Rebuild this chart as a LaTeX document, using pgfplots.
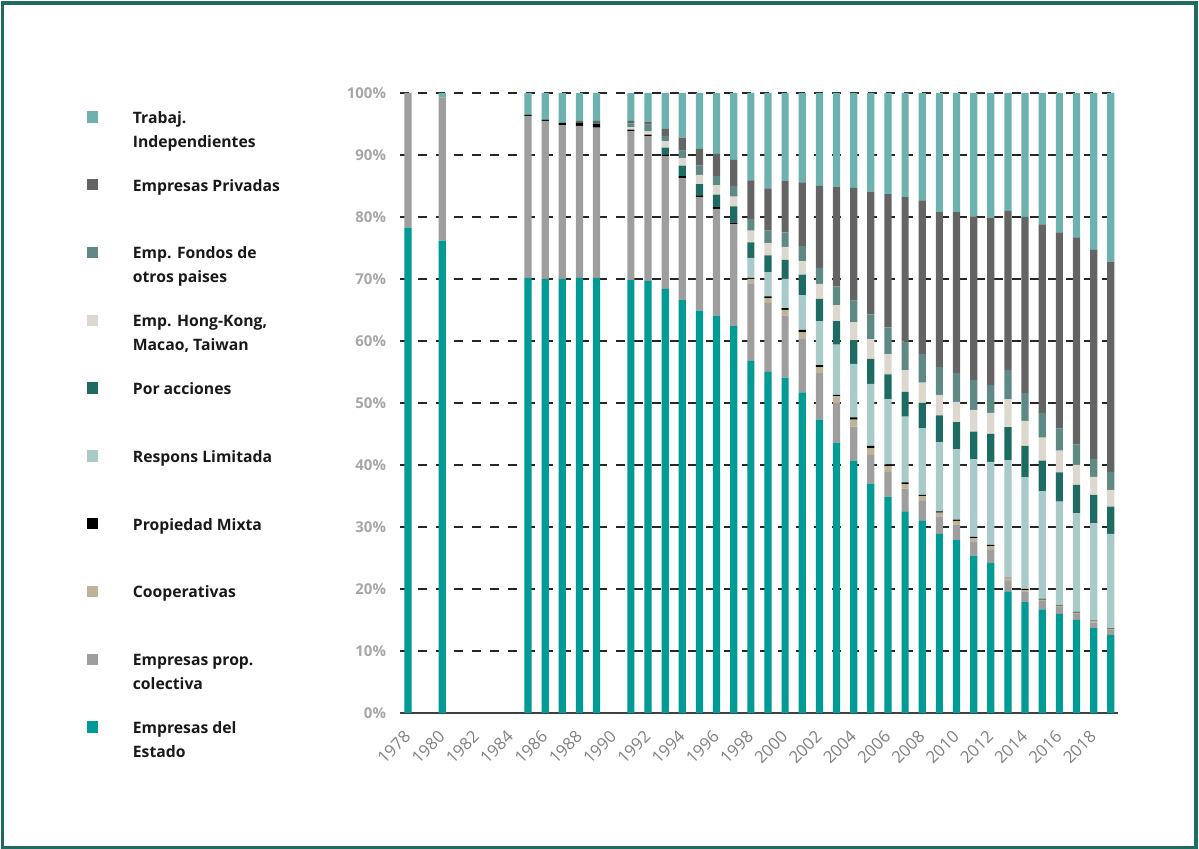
\documentclass[border=0pt]{standalone}
\usepackage{fontspec}
\setmainfont{Open Sans}
\usepackage{pgfplots}
\usepackage{pgfplotstable}
\pgfplotsset{compat=1.18}
\definecolor{cE}{HTML}{009B95}
\definecolor{cC}{HTML}{9E9E9E}
\definecolor{cCo}{HTML}{BEB297}
\definecolor{cM}{HTML}{000000}
\definecolor{cR}{HTML}{A8CBCA}
\definecolor{cA}{HTML}{1E6B63}
\definecolor{cH}{HTML}{DDD8CE}
\definecolor{cF}{HTML}{5E8985}
\definecolor{cP}{HTML}{646464}
\definecolor{cT}{HTML}{6DB2AE}
\definecolor{frameC}{HTML}{1F6B62}
\pgfplotstableread{
year E C Co M R A H F P T
1978 78.3 21.7 0 0 0 0 0 0 0 0
1980 76.2 23.1 0 0 0 0 0 0 0 0.7
1985 70.2 26.1 0 0.2 0 0 0 0 0 3.5
1986 70.0 25.5 0 0.2 0 0 0 0 0 4.3
1987 70.0 24.8 0 0.4 0 0 0 0 0 4.8
1988 70.2 24.5 0 0.5 0 0 0 0 0.3 4.5
1989 70.2 24.2 0 0.6 0 0 0 0.2 0.3 4.5
1991 69.8 24.0 0 0.3 0 0 0.4 0.6 0.4 4.5
1992 69.7 23.3 0 0.3 0 0 0.5 1.1 0.5 4.6
1993 68.4 21.4 0 0.3 0 1.1 1.0 0.9 1.1 5.8
1994 66.6 19.7 0 0.3 0 1.7 1.2 1.2 2.1 7.2
1995 64.9 18.3 0 0.3 0 1.8 1.5 1.5 2.7 9.0
1996 64.1 17.2 0 0.3 0 2.0 1.5 1.5 3.6 9.8
1997 62.4 16.4 0 0.3 0 2.6 1.6 1.7 4.2 10.8
1998 56.8 12.5 0.7 0.2 3.2 2.5 1.9 1.9 6.2 14.1
1999 55.0 11.1 0.8 0.3 3.9 2.7 2.0 2.0 6.8 15.4
2000 54.1 10.0 0.9 0.3 4.7 3.1 2.1 2.3 8.3 14.2
2001 51.7 8.6 1.1 0.4 5.6 3.3 2.2 2.4 10.3 14.4
2002 47.3 7.5 1.0 0.3 7.1 3.6 2.4 2.6 13.2 15.0
2003 43.6 6.4 1.1 0.2 8.1 3.8 2.6 3.0 16.1 15.1
2004 40.7 5.5 1.1 0.4 8.6 3.8 2.9 3.5 18.2 15.3
2005 37.0 4.6 1.1 0.4 10.0 4.0 3.2 4.0 19.8 15.9
2006 34.8 4.1 0.9 0.3 10.5 4.0 3.3 4.3 21.5 16.3
2007 32.5 3.7 0.7 0.3 10.6 4.0 3.5 4.6 23.3 16.8
2008 31.0 3.2 0.8 0.2 10.7 4.1 3.3 4.6 24.8 17.3
2009 28.9 2.8 0.6 0.2 11.2 4.3 3.3 4.5 25.0 19.2
2010 27.9 2.5 0.6 0.2 11.3 4.4 3.3 4.6 26.0 19.2
2011 25.4 2.3 0.5 0.2 12.5 4.5 3.5 4.8 26.4 19.9
2012 24.2 2.1 0.6 0.2 13.4 4.5 3.4 4.5 27.0 20.1
2013 19.6 1.7 0.4 0.1 19.0 5.3 4.5 4.7 25.7 19.0
2014 17.9 1.6 0.3 0.2 18.0 5.1 4.0 4.5 28.4 20.0
2015 16.7 1.4 0.2 0.1 17.4 4.9 3.7 4.0 30.4 21.2
2016 16.0 1.1 0.2 0.1 16.7 4.7 3.5 3.6 31.6 22.5
2017 15.0 1.0 0.2 0.1 15.9 4.6 3.2 3.3 33.4 23.3
2018 13.7 0.9 0.2 0.1 15.7 4.6 2.9 2.9 33.7 25.3
2019 12.6 0.8 0.2 0.1 15.2 4.4 2.7 2.9 33.9 27.2
}\datatable
\begin{document}
\begin{tikzpicture}
\useasboundingbox (-300pt,-102pt) rectangle (599.25pt,534.75pt);
\begin{axis}[
  at={(0pt,0pt)}, anchor=south west,
  scale only axis, width=538.5pt, height=465pt,
  ybar stacked, bar width=5.4pt,
  xmin=1977.53, xmax=2019.42, ymin=0, ymax=100,
  xtick={1978,1980,1982,1984,1986,1988,1990,1992,1994,1996,1998,2000,2002,2004,2006,2008,2010,2012,2014,2016,2018},
  xticklabels={1978,1980,1982,1984,1986,1988,1990,1992,1994,1996,1998,2000,2002,2004,2006,2008,2010,2012,2014,2016,2018},
  ytick={0,10,20,30,40,50,60,70,80,90,100},
  yticklabels={0\%,10\%,20\%,30\%,40\%,50\%,60\%,70\%,80\%,90\%,100\%},
  axis x line*=bottom, axis y line*=left,
  y axis line style={draw=none},
  x axis line style={-, draw=black!75, line width=1pt},
  tick style={draw=none},
  ymajorgrids,
  major grid style={black!85, line width=1pt, dash pattern=on 7pt off 6.5pt},
  xticklabel style={font=\fontsize{12.5}{14}\selectfont, text=black!50, xshift=2pt, rotate=45, anchor=east},
  xticklabel shift=13pt,
  yticklabel style={font=\bfseries\fontsize{11.2}{13}\selectfont, text=black!35, xshift=-7pt},
  legend style={at={(-0.4359,0.9716)}, anchor=north west, draw=none, fill=none,
    inner sep=0pt, outer sep=0pt, row sep=0pt,
    font=\bfseries\fontsize{11.8}{18}\selectfont, text=black!90,
    nodes={inner sep=0pt, text height=9.5pt, text depth=41.35pt},
    cells={anchor=base west},
    /tikz/every odd column/.append style={column sep=25.9pt}},
  reverse legend,
  legend image code/.code={\fill[#1] (0pt,0.5pt) rectangle (8.5pt,9pt);},
]
\addplot[fill=cE, draw=none] table[x=year,y=E]{\datatable};
\addlegendentry{\parbox[t]{140pt}{Empresas del\\Estado}}
\addplot[fill=cC, draw=none] table[x=year,y=C]{\datatable};
\addlegendentry{\parbox[t]{140pt}{Empresas prop.\\colectiva}}
\addplot[fill=cCo, draw=none] table[x=year,y=Co]{\datatable};
\addlegendentry{\parbox[t]{140pt}{Cooperativas}}
\addplot[fill=cM, draw=none] table[x=year,y=M]{\datatable};
\addlegendentry{\parbox[t]{140pt}{Propiedad Mixta}}
\addplot[fill=cR, draw=none] table[x=year,y=R]{\datatable};
\addlegendentry{\parbox[t]{140pt}{Respons Limitada}}
\addplot[fill=cA, draw=none] table[x=year,y=A]{\datatable};
\addlegendentry{\parbox[t]{140pt}{Por acciones}}
\addplot[fill=cH, draw=none] table[x=year,y=H]{\datatable};
\addlegendentry{\parbox[t]{140pt}{Emp. Hong-Kong,\\Macao, Taiwan}}
\addplot[fill=cF, draw=none] table[x=year,y=F]{\datatable};
\addlegendentry{\parbox[t]{140pt}{Emp. Fondos de\\otros paises}}
\addplot[fill=cP, draw=none] table[x=year,y=P]{\datatable};
\addlegendentry{\parbox[t]{140pt}{Empresas Privadas}}
\addplot[fill=cT, draw=none] table[x=year,y=T]{\datatable};
\addlegendentry{\parbox[t]{140pt}{Trabaj.\\Independientes}}
\end{axis}
\draw[line width=2.6pt, draw=frameC] (-297.98pt,-100.9pt) rectangle (597pt,532.65pt);
\end{tikzpicture}
\end{document}
